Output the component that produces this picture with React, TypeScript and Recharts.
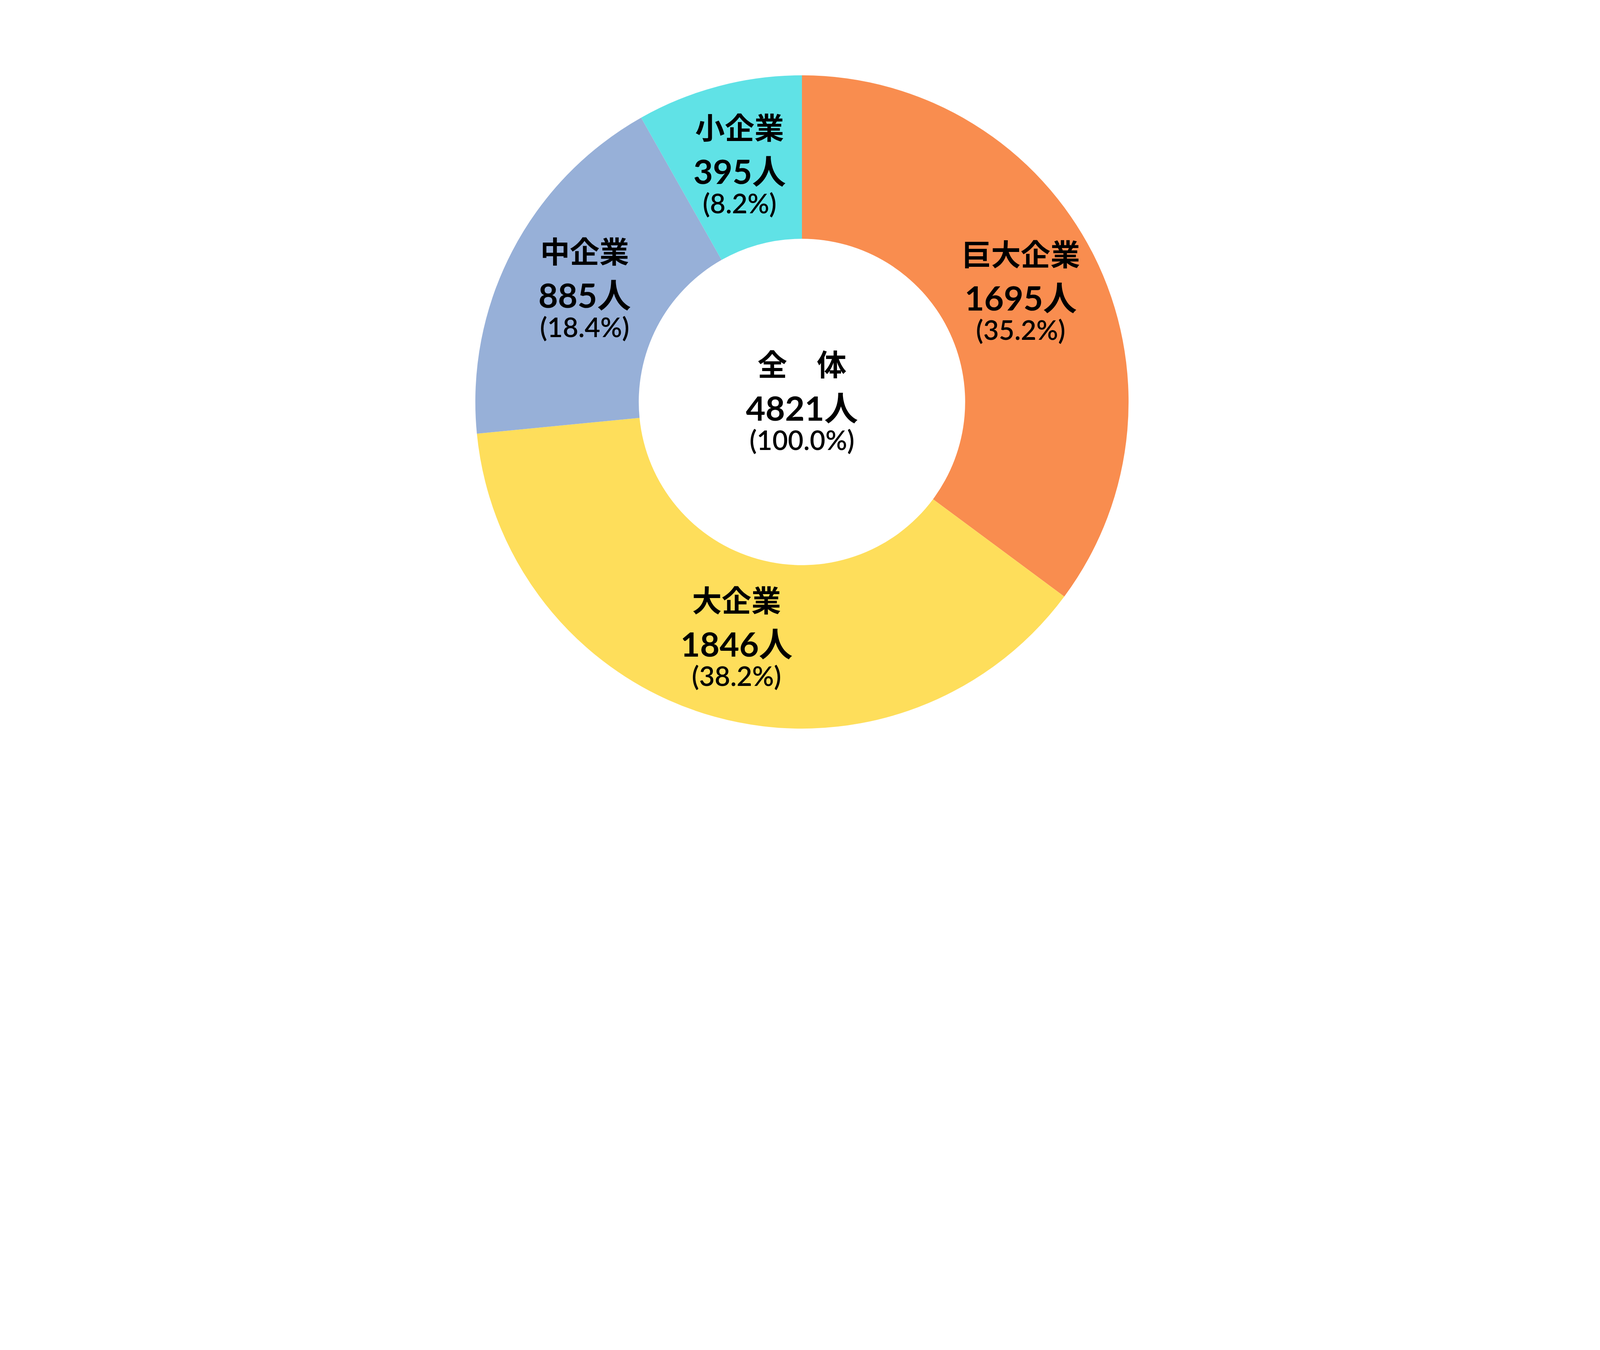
import React from "react";
import { PieChart, Pie, Cell } from "recharts";

const categories = ["巨大企業", "大企業", "中企業", "小企業"];
const counts = [1695, 1846, 885, 395];
const shares = ["35.2%", "38.2%", "18.4%", "8.2%"];
const totalName = "全　体";
const totalCount = 4821;
const totalShare = "100.0%";

const COLORS = ["#F98D4F", "#FEDE5B", "#97B0D8", "#60E2E6"];
const JP_FONT = "'Noto Sans CJK JP', 'Noto Sans', sans-serif";
const NUM_FONT = "Lato, 'Noto Sans CJK JP', sans-serif";
const RADIAN = Math.PI / 180;

// design size of the reference; the sandbox window may be narrower, so scale to fit
const BASE_W = 6912;
const BASE_H = 3456;
const S = Math.min(1, window.innerWidth / BASE_W, window.innerHeight / BASE_H);

const data = categories.map((name, i) => ({
  name,
  value: counts[i],
  share: shares[i],
}));

// three-line block: name / count / share
const LabelBlock = ({ x, y, name, count, share }: any) => (
  <g>
    <text x={x} y={y - 169 * S} textAnchor="middle" dominantBaseline="central" fontFamily={JP_FONT} fontWeight={700} fontSize={128 * S} fill="#000">
      {name}
    </text>
    <text x={x} y={y + 25 * S} textAnchor="middle" dominantBaseline="central" fontFamily={NUM_FONT} fontWeight={700} fontSize={146 * S} fill="#000">
      {count}人
    </text>
    <text x={x} y={y + 163 * S} textAnchor="middle" dominantBaseline="central" fontFamily={NUM_FONT} fontWeight={600} fontSize={116 * S} fill="#000">
      ({share})
    </text>
  </g>
);

const renderLabel = (props: any) => {
  const { cx, cy, midAngle, innerRadius, outerRadius, index } = props;
  const r = (innerRadius + outerRadius) / 2;
  const x = cx + r * Math.cos(-midAngle * RADIAN);
  const y = cy + r * Math.sin(-midAngle * RADIAN);
  const d = data[index];
  return (
    <g>
      <LabelBlock x={x} y={y} name={d.name} count={d.value} share={d.share} />
      {index === 0 && (
        <LabelBlock x={cx} y={cy} name={totalName} count={totalCount} share={totalShare} />
      )}
    </g>
  );
};

const App: React.FC = () => {
  return (
    <div style={{ position: "absolute", left: 0, top: 0, background: "#fff" }}>
      <PieChart width={Math.round(BASE_W * S)} height={Math.round(BASE_H * S)}>
        <Pie
          data={data}
          dataKey="value"
          nameKey="name"
          cx={(BASE_W / 2) * S}
          cy={(BASE_H / 2) * S}
          innerRadius={705 * S}
          outerRadius={1411 * S}
          startAngle={90}
          endAngle={-270}
          stroke="none"
          label={renderLabel}
          labelLine={false}
          isAnimationActive={false}
        >
          {data.map((_, i) => (
            <Cell key={i} fill={COLORS[i]} />
          ))}
        </Pie>
      </PieChart>
    </div>
  );
};

export default App;
